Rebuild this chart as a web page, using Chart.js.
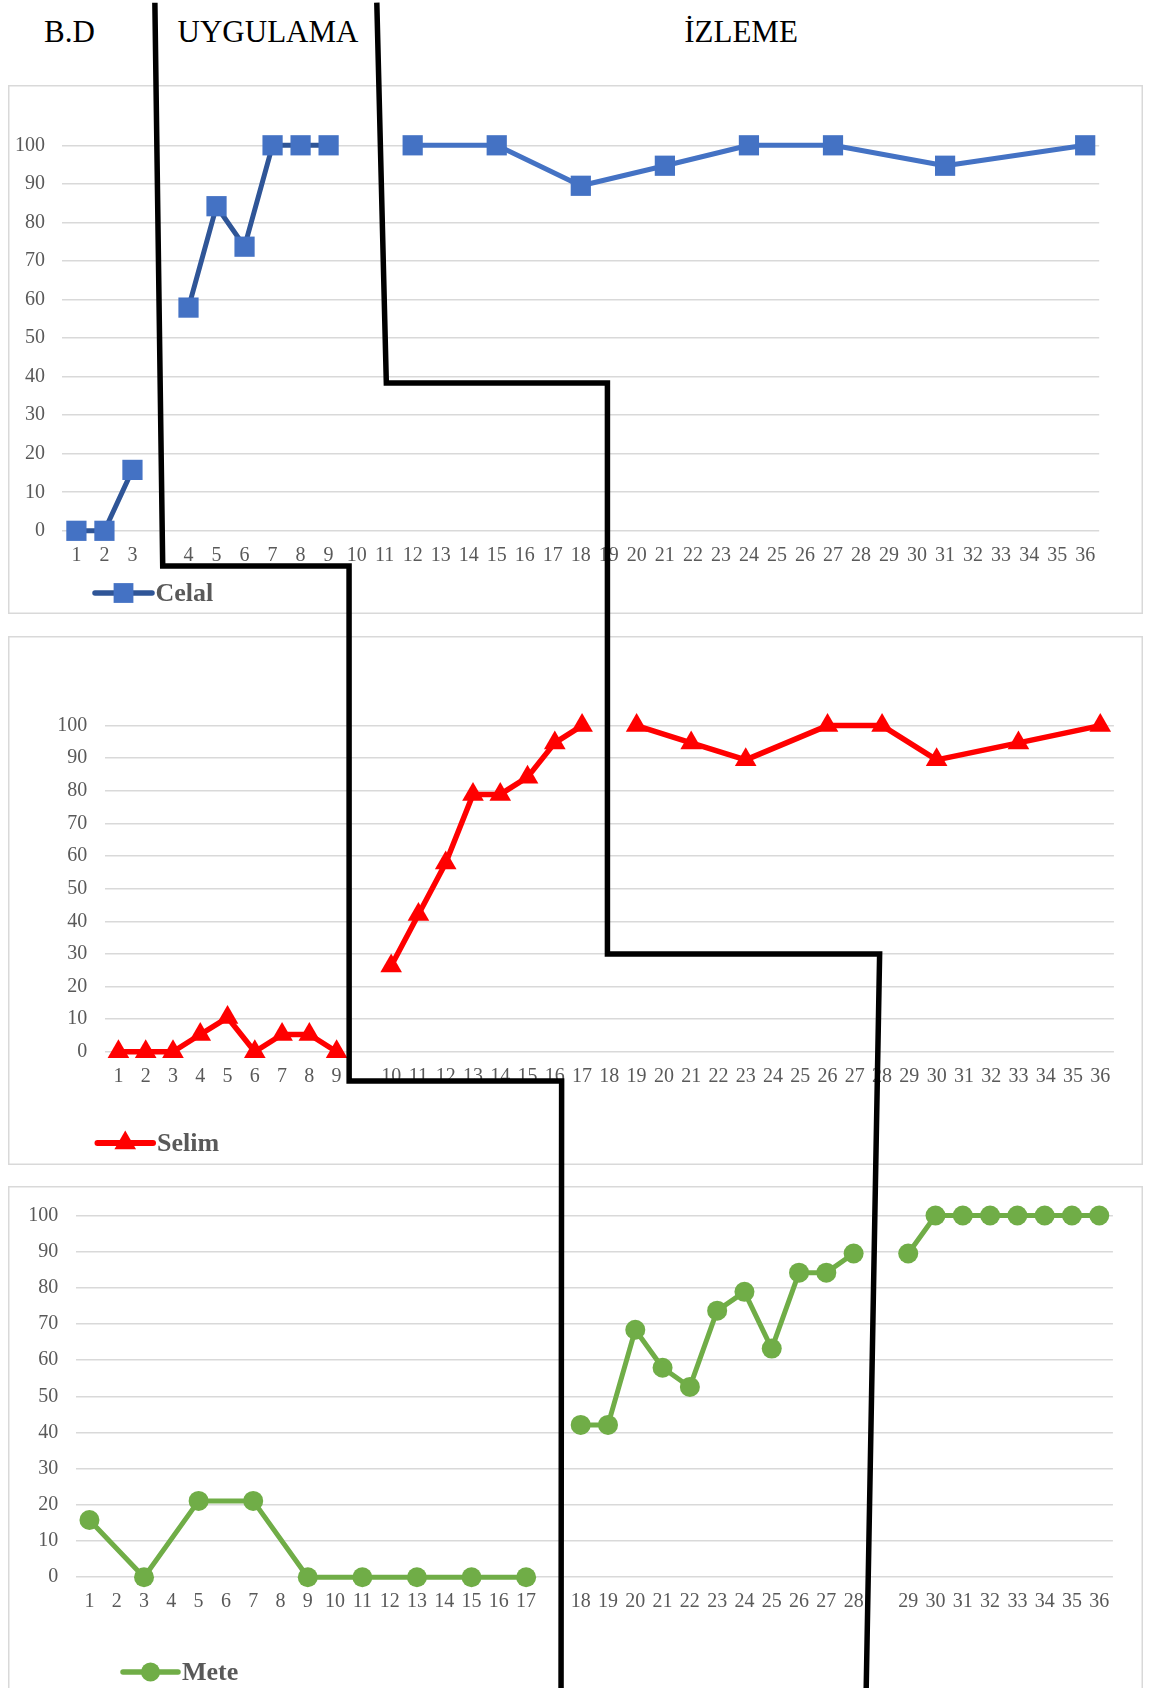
<!DOCTYPE html>
<html><head><meta charset="utf-8">
<script src="https://cdn.jsdelivr.net/npm/chart.js@4.4.1/dist/chart.umd.min.js"></script>
<style>
html,body{margin:0;padding:0;background:#fff;}
body{width:1152px;height:1688px;position:relative;overflow:hidden;font-family:"Liberation Serif","Times New Roman",serif;}
.title{position:absolute;font-size:31px;line-height:31px;color:#000;white-space:nowrap;transform:translateX(-50%);}
canvas{position:absolute;}
</style></head><body>
<div class="title" style="left:69.5px;top:15.7px">B.D</div>
<div class="title" style="left:268px;top:15.7px">UYGULAMA</div>
<div class="title" style="left:741px;top:15.7px">İZLEME</div>
<canvas id="c1" width="1135" height="529" style="left:8px;top:85px"></canvas>
<canvas id="c2" width="1135" height="529" style="left:8px;top:636px"></canvas>
<canvas id="c3" width="1135" height="540" style="left:8px;top:1186px"></canvas>
<canvas id="overlay" width="1152" height="1688" style="left:0;top:0;z-index:5;pointer-events:none"></canvas>
<script>
// ---------- DATA ----------
const celalLabels = ['1','2','3','','4','5','6','7','8','9','10','11','12','13','14','15','16','17','18','19','20','21','22','23','24','25','26','27','28','29','30','31','32','33','34','35','36'];
const celalValues = [0,0,15.8,null,57.9,84.2,73.7,100,100,100,null,null,100,null,null,100,null,null,89.5,null,null,94.7,null,null,100,null,null,100,null,null,null,94.7,null,null,null,null,100];
const celalPhaseStarts = ['4','11'];

const selimLabels = ['1','2','3','4','5','6','7','8','9','','10','11','12','13','14','15','16','17','18','19','20','21','22','23','24','25','26','27','28','29','30','31','32','33','34','35','36'];
const selimValues = [0,0,0,5.3,10.5,0,5.3,5.3,0,null,26.3,42.1,57.9,78.9,78.9,84.2,94.7,100,null,100,null,94.7,null,89.5,null,null,100,null,100,null,89.5,null,null,94.7,null,null,100];
const selimPhaseStarts = ['10','18'];

const meteLabels = ['1','2','3','4','5','6','7','8','9','10','11','12','13','14','15','16','17','','18','19','20','21','22','23','24','25','26','27','28','','29','30','31','32','33','34','35','36'];
const meteValues = [15.8,null,0,null,21.1,null,21.1,null,0,null,0,null,0,null,0,null,0,null,42.1,42.1,68.4,57.9,52.6,73.7,78.9,63.2,84.2,84.2,89.5,null,89.5,100,100,100,100,100,100,100];
const metePhaseStarts = ['18','29'];

const yTicks = {min: 0, max: 100, step: 10};

// Phase-change lines, in axis units of each panel: [panel, category position, y value]
const phaseLineA = [[0,2.80,137],[0,3.08,-9.13],[0,9.73,-9.13],[1,8.46,-8.95],[1,16.25,-8.95],[2,17.28,-31]];
const phaseLineB = [[0,10.72,137],[0,11.06,38.34],[0,18.95,38.34],[1,17.93,29.98],[1,27.91,29.98],[2,28.46,-31]];

// ---------- RENDER ----------
const FONT = '"Liberation Serif","Times New Roman",serif';

function splitPhases(labels, values, starts) {
  const out = [];
  for (let p = 0; p <= starts.length; p++) out.push([]);
  let phase = 0;
  labels.forEach((lab, i) => {
    if (phase < starts.length && lab === starts[phase]) phase++;
    out.forEach((arr, p) => arr.push(p === phase ? values[i] : null));
  });
  return out;
}

function panelPlugin(style, box) {
  return {
    id: 'panel' + style.name,
    beforeDraw(chart) {
      const ctx = chart.ctx;
      ctx.save();
      ctx.strokeStyle = '#D9D9D9';
      ctx.lineWidth = 1.5;
      ctx.strokeRect(0.75, 0.75, chart.width - 1.5, chart.height - 1.5);
      ctx.restore();
    },
    afterDraw(chart) {
      const ctx = chart.ctx;
      const L = style.legend;
      const x1 = L.x1 - box.left, x2 = L.x2 - box.left, y = L.y - box.top;
      ctx.save();
      ctx.strokeStyle = style.legendLine;
      ctx.lineWidth = style.lineWidth + 0.5;
      ctx.lineCap = 'round';
      ctx.beginPath(); ctx.moveTo(x1, y); ctx.lineTo(x2, y); ctx.stroke();
      ctx.fillStyle = style.pointColor;
      ctx.strokeStyle = style.pointColor;
      Chart.helpers.drawPoint(ctx, {pointStyle: style.pointStyle, radius: style.legendRadius, borderWidth: 0, rotation: 0}, (x1 + x2) / 2, y);
      ctx.fillStyle = '#595959';
      ctx.font = 'bold 26px ' + FONT;
      ctx.textBaseline = 'middle';
      ctx.textAlign = 'left';
      ctx.fillText(style.name, L.textX - box.left, y + 1);
      ctx.restore();
    }
  };
}

function buildChart(id, box, area, labels, values, starts, style) {
  const phases = splitPhases(labels, values, starts);
  const datasets = phases.map((data, p) => ({
    label: style.name,
    data,
    borderColor: style.lineColors[p],
    borderWidth: style.lineWidth,
    backgroundColor: style.pointColor,
    pointStyle: style.pointStyle,
    pointRadius: style.radius,
    pointHoverRadius: style.radius,
    pointBackgroundColor: style.pointColor,
    pointBorderColor: style.pointColor,
    pointBorderWidth: 0,
    spanGaps: true,
    clip: false,
    tension: 0,
    borderJoinStyle: 'round',
    borderCapStyle: 'round'
  }));
  const xH = 50;
  return new Chart(document.getElementById(id), {
    type: 'line',
    data: {labels, datasets},
    options: {
      responsive: false,
      animation: false,
      events: [],
      layout: {padding: {
        left: 0,
        right: box.left + box.width - area.right,
        top: area.top - box.top,
        bottom: box.top + box.height - area.bottom - xH
      }},
      plugins: {legend: {display: false}, tooltip: {enabled: false}},
      scales: {
        x: {
          type: 'category', offset: true,
          grid: {display: false, drawTicks: false},
          border: {display: false},
          ticks: {autoSkip: false, maxRotation: 0, minRotation: 0, padding: 13, color: '#595959', font: {family: FONT, size: 20}},
          afterFit: s => { s.height = xH; }
        },
        y: {
          min: yTicks.min, max: yTicks.max,
          grid: {color: '#D9D9D9', lineWidth: 1.5, drawTicks: false},
          border: {display: false},
          ticks: {stepSize: yTicks.step, padding: 17.5, color: '#595959', font: {family: FONT, size: 20}},
          afterFit: s => { s.width = area.left - box.left; }
        }
      }
    },
    plugins: [panelPlugin(style, box)]
  });
}

const boxes = [
  {left: 8, top: 85, width: 1135, height: 529},
  {left: 8, top: 636, width: 1135, height: 529},
  {left: 8, top: 1186, width: 1135, height: 540}
];

const c1 = buildChart('c1', boxes[0], {left: 62.4, right: 1099.2, top: 145.3, bottom: 530.8},
  celalLabels, celalValues, celalPhaseStarts, {
    name: 'Celal', lineColors: ['#2F5597', '#2F5597', '#4472C4'], lineWidth: 5,
    pointColor: '#4472C4', pointStyle: 'rect', radius: 14.3, legendRadius: 14,
    legendLine: '#2F5597', legend: {x1: 95, x2: 152, y: 593, textX: 155.5}
  });
const c2 = buildChart('c2', boxes[1], {left: 104.8, right: 1113.9, top: 725.6, bottom: 1051.8},
  selimLabels, selimValues, selimPhaseStarts, {
    name: 'Selim', lineColors: ['#FF0000', '#FF0000', '#FF0000'], lineWidth: 5.5,
    pointColor: '#FF0000', pointStyle: 'triangle', radius: 12.5, legendRadius: 12.5,
    legendLine: '#FF0000', legend: {x1: 97.5, x2: 153, y: 1143, textX: 157}
  });
const c3 = buildChart('c3', boxes[2], {left: 75.8, right: 1112.9, top: 1215.5, bottom: 1577.2},
  meteLabels, meteValues, metePhaseStarts, {
    name: 'Mete', lineColors: ['#70AD47', '#70AD47', '#70AD47'], lineWidth: 5,
    pointColor: '#70AD47', pointStyle: 'circle', radius: 10, legendRadius: 9.5,
    legendLine: '#70AD47', legend: {x1: 123, x2: 178, y: 1672, textX: 182}
  });

const charts = [c1, c2, c3];
function toPage(k, xi, yv) {
  const ch = charts[k];
  return [boxes[k].left + ch.scales.x.getPixelForValue(xi), boxes[k].top + ch.scales.y.getPixelForValue(yv)];
}
const ov = document.getElementById('overlay').getContext('2d');
ov.strokeStyle = '#000';
ov.lineWidth = 5.5;
ov.lineJoin = 'miter';
ov.lineCap = 'butt';
[phaseLineA, phaseLineB].forEach(path => {
  ov.beginPath();
  path.forEach(([k, xi, yv], i) => {
    const [px, py] = toPage(k, xi, yv);
    if (i === 0) ov.moveTo(px, py); else ov.lineTo(px, py);
  });
  ov.stroke();
});
</script>
</body></html>
